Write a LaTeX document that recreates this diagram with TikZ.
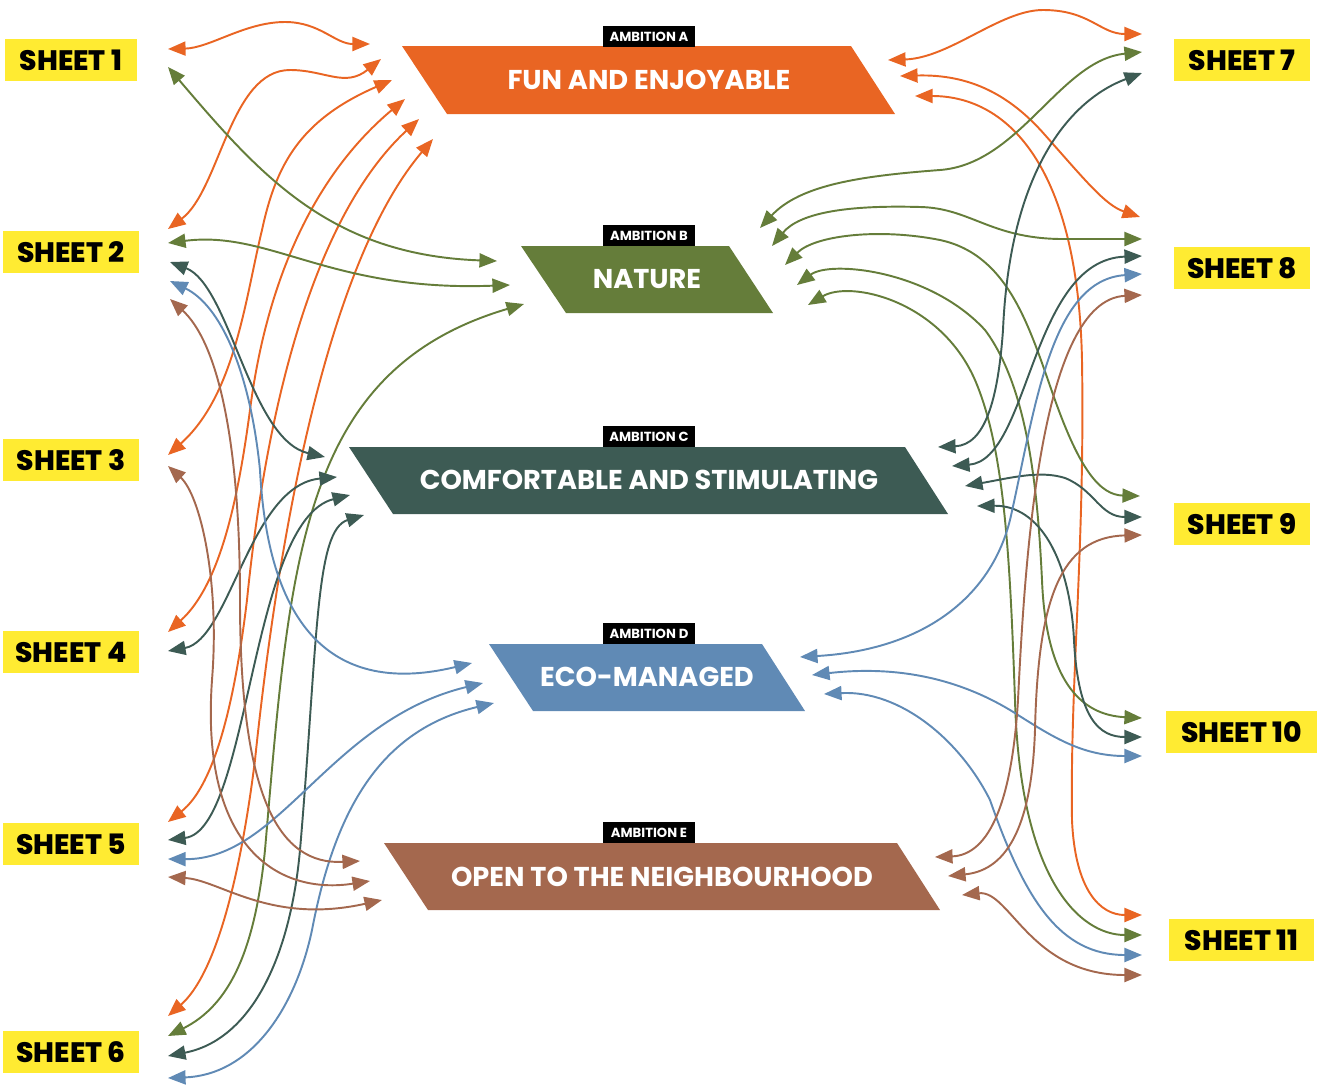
\documentclass[tikz,border=0pt]{standalone}
\usepackage{fontspec}
\setmainfont{Poppins}
\newfontfamily\heavyfont{Poppins ExtraBold}
\usetikzlibrary{arrows.meta}
\definecolor{funorange}{HTML}{E96523}
\definecolor{naturegreen}{HTML}{657D3A}
\definecolor{comfortteal}{HTML}{3D5B54}
\definecolor{ecoblue}{HTML}{608AB5}
\definecolor{openbrown}{HTML}{A4684E}
\definecolor{sheetyellow}{HTML}{FFEB32}

\begin{document}
\begin{tikzpicture}[x=0.02cm, y=-0.02cm, >={Triangle[length=10pt,width=8pt]},
  sheet/.style={fill=sheetyellow, minimum height=0.84cm, inner sep=0pt, font=\heavyfont\fontsize{16}{16}\selectfont},
  ambtag/.style={fill=black, text=white, minimum width=1.84cm, minimum height=0.42cm, inner sep=0pt, font=\fontsize{7.5}{7.5}\selectfont\bfseries},
  ambtitle/.style={text=white, inner sep=0pt, font=\fontsize{15.5}{15.5}\selectfont\bfseries},
  link/.style={line width=1.1pt, <->}]
\useasboundingbox (0,0) rectangle (1320,1086);

\foreach \n/\x/\y/\w in {1/71/60/2.64, 2/71/252/2.72, 3/71/460/2.72, 4/71/652/2.72, 5/71/844/2.72, 6/71/1052/2.72,
  7/1242/60/2.72, 8/1242/268/2.72, 9/1242/524/2.72, 10/1241.5/732/3.02, 11/1241.5/940/2.9}
  \node[sheet, minimum width=\w cm] (sheet\n) at (\x,\y) {SHEET \n};

\fill[funorange] (402,46) -- (851,46) -- (895,114) -- (447,114) -- cycle;
\node[ambtitle] (ambA) at (649,80) {FUN AND ENJOYABLE};
\node[ambtag] (tagA) at (649,36.5) {AMBITION A};
\fill[naturegreen] (521,246) -- (729,246) -- (773,313) -- (566,313) -- cycle;
\node[ambtitle] (ambB) at (647,279) {NATURE};
\node[ambtag] (tagB) at (649,235.5) {AMBITION B};
\fill[comfortteal] (349,447) -- (905,447) -- (948,514) -- (393,514) -- cycle;
\node[ambtitle] (ambC) at (649,480) {COMFORTABLE AND STIMULATING};
\node[ambtag] (tagC) at (649,436.5) {AMBITION C};
\fill[ecoblue] (489,644) -- (762,644) -- (805,711) -- (533,711) -- cycle;
\node[ambtitle] (ambD) at (647,677) {ECO-MANAGED};
\node[ambtag] (tagD) at (649,633.5) {AMBITION D};
\fill[openbrown] (384,843) -- (897,843) -- (940,910) -- (428,910) -- cycle;
\node[ambtitle] (ambE) at (662,877) {OPEN TO THE NEIGHBOURHOOD};
\node[ambtag] (tagE) at (649,832.5) {AMBITION E};

\foreach \x/\y/\n in {168/49/s1a, 168/67/s1b,
  168/229/s2a, 168/243/s2b, 170/262/s2c, 170/281/s2d, 170/299/s2e,
  168/455/s3a, 168/466/s3e, 168/632/s4a, 168/651/s4c,
  168/822/s5a, 168/840/s5c, 168/859/s5d, 168/877/s5e,
  168/1016/s6a, 168/1036/s6b, 168/1056/s6c, 168/1078/s6d,
  1142/34/s7a, 1142/52/s7b, 1142/73/s7c,
  1140/217/s8a, 1142/239/s8b, 1142/256/s8c, 1142/274/s8d, 1142/295/s8e,
  1140/496/s9b, 1142/517/s9c, 1142/535/s9e,
  1142/718/s10b, 1142/737/s10c, 1142/756/s10d,
  1142/915/s11a, 1142/935/s11b, 1142/955/s11d, 1142/975/s11e}
  \coordinate (\n) at (\x,\y);
\foreach \x/\y/\n in {370/44/a1, 381/59/a2, 392/80/a3, 405/99/a4, 419/119/a5, 433/139/a6,
  888/60/a7, 900/76/a8, 915/96/a11,
  497/261/b1, 510/285/b2, 524/304/b6, 760/228/b7, 772/246/b8, 785/265/b9, 797/285/b10, 808/305/b11,
  325/457/c2, 337/477/c4, 350/495/c5, 364/515/c6, 938/447/c7, 952/466/c8, 965/486/c9, 977/506/c10,
  472/663/d2, 483/683/d5, 494/703/d6, 800/657/d8, 812/675/d10, 824/694/d11,
  360/861/e2, 370/881/e3, 382/900/e5, 935/857/e8, 948/876/e9, 962/895/e11}
  \coordinate (\n) at (\x,\y);

\draw[link, funorange] (s1a) .. controls (210,48) and (245,22) .. (285,22) .. controls (320,22) and (335,44) .. (a1);
\draw[link, funorange] (s2a) .. controls (220,190) and (230,70) .. (290,70) .. controls (325,70) and (345,88) .. (a2);
\draw[link, funorange] (s3a) .. controls (235,395) and (245,300) .. (262,230) .. controls (276,165) and (300,120) .. (a3);
\draw[link, funorange] (s4a) .. controls (220,585) and (238,500) .. (250,410) .. controls (268,270) and (320,170) .. (a4);
\draw[link, funorange] (s5a) .. controls (215,785) and (235,700) .. (247,600) .. controls (265,420) and (310,220) .. (a5);
\draw[link, funorange] (s6a) .. controls (215,975) and (240,880) .. (255,760) .. controls (280,520) and (330,260) .. (a6);
\draw[link, funorange] (a7) .. controls (950,58) and (1000,10) .. (1043,10) .. controls (1090,10) and (1100,34) .. (s7a);
\draw[link, funorange] (a8) .. controls (970,74) and (1010,95) .. (1045,135) .. controls (1085,180) and (1105,205) .. (s8a);
\draw[link, funorange] (a11) .. controls (1010,96) and (1078,170) .. (1082,360) .. controls (1085,550) and (1070,680) .. (1072,820) .. controls (1075,890) and (1100,915) .. (s11a);

\draw[link, naturegreen] (s1b) .. controls (260,175) and (330,255) .. (b1);
\draw[link, naturegreen] (s2b) .. controls (270,230) and (330,292) .. (b2);
\draw[link, naturegreen] (s6b) .. controls (230,1005) and (255,950) .. (265,850) .. controls (290,560) and (300,370) .. (b6);
\draw[link, naturegreen] (b7) .. controls (800,185) and (860,176) .. (940,170) .. controls (1020,164) and (1060,60) .. (s7b);
\draw[link, naturegreen] (b8) .. controls (800,212) and (850,205) .. (920,207) .. controls (970,208) and (990,238) .. (1060,239) -- (s8b);
\draw[link, naturegreen] (b9) .. controls (815,235) and (880,228) .. (940,240) .. controls (1010,255) and (1030,330) .. (1055,400) .. controls (1080,470) and (1100,495) .. (s9b);
\draw[link, naturegreen] (b10) .. controls (830,260) and (930,270) .. (985,330) .. controls (1030,390) and (1038,500) .. (1042,580) .. controls (1046,680) and (1080,715) .. (s10b);
\draw[link, naturegreen] (b11) .. controls (850,280) and (940,300) .. (975,380) .. controls (1005,450) and (1010,560) .. (1015,700) .. controls (1020,880) and (1080,935) .. (s11b);

\draw[link, comfortteal] (s2c) .. controls (230,285) and (250,440) .. (c2);
\draw[link, comfortteal] (s4c) .. controls (230,640) and (250,485) .. (c4);
\draw[link, comfortteal] (s5c) .. controls (250,830) and (250,520) .. (c5);
\draw[link, comfortteal] (s6c) .. controls (250,1040) and (290,960) .. (300,850) .. controls (318,640) and (315,530) .. (c6);
\draw[link, comfortteal] (c7) .. controls (985,445) and (998,400) .. (1003,330) .. controls (1010,170) and (1070,100) .. (s7c);
\draw[link, comfortteal] (c8) .. controls (1030,460) and (1030,260) .. (s8c);
\draw[link, comfortteal] (c9) .. controls (1010,478) and (1040,470) .. (1065,478) .. controls (1095,490) and (1100,517) .. (s9c);
\draw[link, comfortteal] (c10) .. controls (1040,505) and (1070,560) .. (1074,640) .. controls (1078,720) and (1100,737) .. (s10c);

\draw[link, ecoblue] (s2d) .. controls (220,305) and (250,370) .. (260,470) .. controls (270,660) and (360,690) .. (d2);
\draw[link, ecoblue] (s5d) .. controls (280,860) and (330,720) .. (d5);
\draw[link, ecoblue] (s6d) .. controls (250,1075) and (295,1010) .. (312,930) .. controls (335,810) and (380,730) .. (d6);
\draw[link, ecoblue] (d8) .. controls (920,650) and (990,600) .. (1010,520) .. controls (1035,410) and (1050,280) .. (s8d);
\draw[link, ecoblue] (d10) .. controls (900,665) and (960,680) .. (1010,710) .. controls (1050,735) and (1080,756) .. (s10d);
\draw[link, ecoblue] (d11) .. controls (900,690) and (960,740) .. (990,800) .. controls (1025,900) and (1060,955) .. (s11d);

\draw[link, openbrown] (s2e) .. controls (215,340) and (240,430) .. (240,600) .. controls (240,800) and (280,865) .. (e2);
\draw[link, openbrown] (s3e) .. controls (200,495) and (220,580) .. (212,680) .. controls (200,850) and (280,895) .. (e3);
\draw[link, openbrown] (s5e) .. controls (220,880) and (270,925) .. (e5);
\draw[link, openbrown] (e8) .. controls (990,855) and (1012,800) .. (1018,700) .. controls (1025,560) and (1040,300) .. (s8e);
\draw[link, openbrown] (e9) .. controls (1010,870) and (1032,820) .. (1035,730) .. controls (1038,600) and (1060,537) .. (s9e);
\draw[link, openbrown] (e11) .. controls (1010,890) and (1030,975) .. (s11e);
\end{tikzpicture}
\end{document}
